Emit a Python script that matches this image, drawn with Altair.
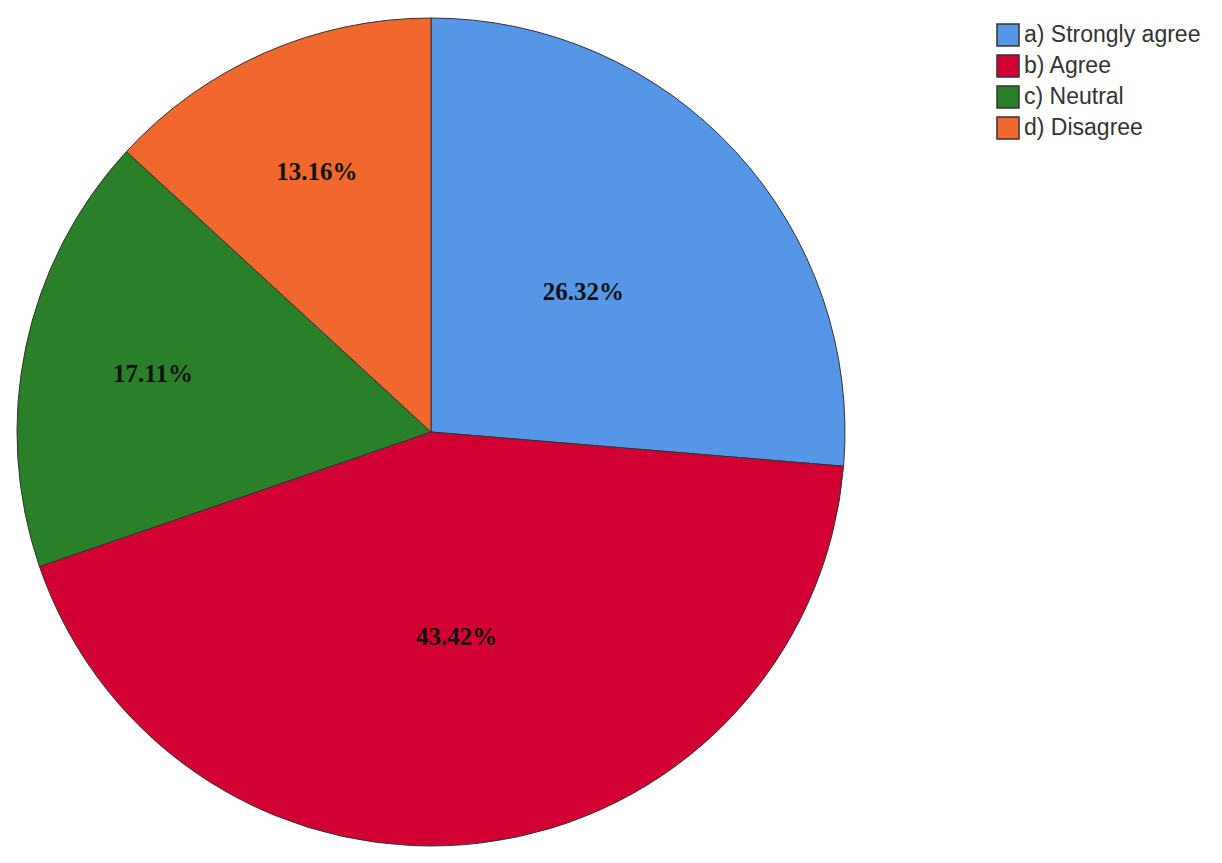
import altair as alt
import pandas as pd

categories = ["a) Strongly agree", "b) Agree", "c) Neutral", "d) Disagree"]
percents = [26.32, 43.42, 17.11, 13.16]
labels = ["26.32%", "43.42%", "17.11%", "13.16%"]
colors = ["#5596E6", "#D20032", "#298029", "#F0682D"]

df = pd.DataFrame({"cat": categories, "pct": percents, "label": labels, "order": [0, 1, 2, 3]})

total = sum(percents)
theta_scale = alt.Scale(domain=[0, total], range=[0, 6.283185307179586])

base = alt.Chart(df).transform_window(
    s1="sum(pct)", sort=[alt.SortField("order")], frame=[None, 0]
).transform_calculate(
    s0="datum.s1 - datum.pct",
    mid="datum.s1 - datum.pct / 2",
    r="datum.pct < 20 ? 284 : 207",
)

pie = base.mark_arc(outerRadius=414, stroke="#333333", strokeWidth=1).encode(
    theta=alt.Theta("s0:Q", scale=theta_scale),
    theta2="s1:Q",
    color=alt.Color(
        "cat:N",
        scale=alt.Scale(domain=categories, range=colors),
        sort=categories,
        legend=alt.Legend(
            title=None,
            orient="none",
            legendX=988,
            legendY=15,
            symbolType="square",
            symbolSize=484,
            symbolStrokeColor="#333333",
            symbolStrokeWidth=1.5,
            symbolOpacity=1,
            labelFont="Liberation Sans",
            labelFontSize=23,
            labelColor="#333333",
            labelLimit=0,
            rowPadding=3,
            labelOffset=4,
            padding=0,
        ),
    ),
)

text = base.mark_text(
    font="Liberation Serif", fontSize=25, fontWeight="bold", color="#111111"
).encode(
    theta=alt.Theta("mid:Q", scale=theta_scale),
    radius=alt.Radius("r:Q", scale=None),
    text="label:N",
)

chart = (pie + text).properties(width=846, height=848, padding=0).configure_view(stroke=None)

chart.save("out.html", embed_options={"renderer": "svg", "actions": False})
